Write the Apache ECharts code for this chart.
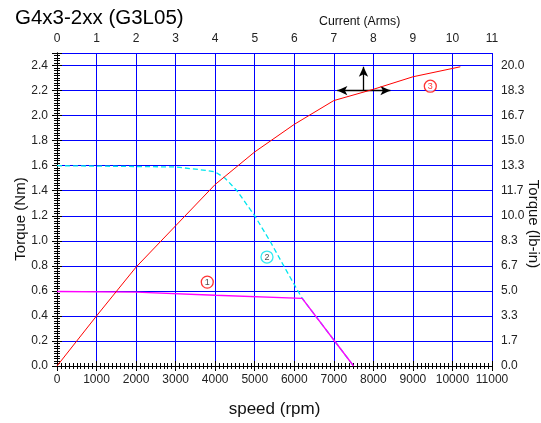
<!DOCTYPE html>
<html><head><meta charset="utf-8">
<script src="https://cdn.jsdelivr.net/npm/echarts@6/dist/echarts.min.js"></script>
<style>html,body{margin:0;padding:0;background:#fff}#c{width:541px;height:423px}</style>
</head><body><div id="c"></div>
<script>
// ---- data ----
const titleText = 'G4x3-2xx (G3L05)';
// curve 3 : torque vs current (top axis)
const curve3Current = [0, 1, 2, 3, 4, 5, 6, 7, 8, 9, 10.2];
const curve3Torque  = [0, 0.40, 0.79, 1.12, 1.45, 1.71, 1.93, 2.12, 2.21, 2.31, 2.39];
// curve 2 : peak torque vs speed (dashed cyan)
const curve2Speed  = [0, 3000, 3700, 4000, 4250, 4550, 5000, 5400, 5750, 6190, 7500];
const curve2Torque = [1.60, 1.59, 1.565, 1.55, 1.50, 1.40, 1.20, 0.99, 0.79, 0.545, 0];
// curve 1 : continuous torque vs speed (magenta)
const curve1Speed  = [0, 2000, 4000, 6200, 7500];
const curve1Torque = [0.595, 0.59, 0.565, 0.54, 0];
// circled labels
const markNames  = ['1', '2', '3'];
const markSpeed  = [3800, 5310, 9440];
const markTorque = [0.67, 0.87, 2.235];
const markColors = ['#ff0000', '#00e5ee', '#ff0000'];
const markTextColors = ['#222', '#222', '#ff0000'];
// arrow cross
const arrowHoriz = [[7090, 2.2], [8430, 2.2]];
const arrowVert  = [[7750, 2.2], [7750, 2.39]];
// axes
const speedMax = 11000, speedStep = 1000;
const currentMax = 11, currentStep = 1;
const torqueMax = 2.5, torqueStep = 0.2;
const lbinMax = 2.5 / 2.4 * 20, lbinStep = 20 / 12;

const zip = (a, b) => a.map((v, i) => [v, b[i]]);
const font = "'Liberation Sans', Arial, sans-serif";
const blue = '#0000ff';

const axisCommon = {
  nameMoveOverlap: false,
  axisLine: { show: true, lineStyle: { color: '#000', width: 1 } },
  axisTick: { show: true, inside: false, length: 5, lineStyle: { color: '#000' } },
  minorTick: { show: true, splitNumber: 10, length: 3, lineStyle: { color: '#000' } },
  axisLabel: { color: '#222', fontSize: 12, fontFamily: font, showMaxLabel: false },
  nameTextStyle: { color: '#111', fontFamily: font }
};

const chart = echarts.init(document.getElementById('c'));
chart.setOption({
  animation: false,
  backgroundColor: '#fff',
  title: [
    { text: titleText, left: 10, top: 3, textStyle: { fontSize: 20.5, fontWeight: 'normal', color: '#000', fontFamily: font } },
    { text: 'Current (Arms)', left: 314, top: 11, textStyle: { fontSize: 12.3, fontWeight: 'normal', color: '#111', fontFamily: font } }
  ],
  grid: { left: 57, right: 49, top: 53, bottom: 57, containLabel: false, outerBoundsMode: 'none' },
  xAxis: [
    Object.assign({}, axisCommon, {
      type: 'value', position: 'bottom', min: 0, max: speedMax, interval: speedStep,
      name: 'speed (rpm)', nameLocation: 'middle', nameGap: 35,
      nameTextStyle: { fontSize: 17, color: '#111', fontFamily: font },
      axisLabel: Object.assign({}, axisCommon.axisLabel, { margin: 8, showMaxLabel: true, formatter: v => String(v) }),
      splitLine: { show: true, lineStyle: { color: blue, width: 1 } }
    }),
    Object.assign({}, axisCommon, {
      type: 'value', position: 'top', min: 0, max: currentMax, interval: currentStep,
      axisLabel: Object.assign({}, axisCommon.axisLabel, { margin: 8, showMaxLabel: true, formatter: v => String(v) }),
      splitLine: { show: false }
    })
  ],
  yAxis: [
    Object.assign({}, axisCommon, {
      type: 'value', position: 'left', min: 0, max: torqueMax, interval: torqueStep,
      name: 'Torque (Nm)', nameLocation: 'middle', nameGap: 29, nameRotate: 90,
      nameTextStyle: { fontSize: 15, color: '#111', fontFamily: font, padding: [0, 19, 0, 0] },
      axisLabel: Object.assign({}, axisCommon.axisLabel, { margin: 9, formatter: v => v.toFixed(1) }),
      splitLine: { show: true, lineStyle: { color: blue, width: 1 } }
    }),
    Object.assign({}, axisCommon, {
      type: 'value', position: 'right', min: 0, max: lbinMax, interval: lbinStep,
      name: 'Torque (lb-in)', nameLocation: 'middle', nameGap: 34, nameRotate: -90,
      nameTextStyle: { fontSize: 15, color: '#111', fontFamily: font, padding: [0, 0, 0, 29] },
      axisLabel: Object.assign({}, axisCommon.axisLabel, { margin: 9, formatter: v => v.toFixed(1) }),
      splitLine: { show: false }
    })
  ],
  series: [
    {
      type: 'line', xAxisIndex: 0, yAxisIndex: 0, data: zip(curve2Speed, curve2Torque),
      showSymbol: false, symbol: 'none',
      lineStyle: { color: '#00e5ee', width: 1.3, type: [5, 3] }, z: 3
    },
    {
      type: 'line', xAxisIndex: 0, yAxisIndex: 0, data: zip(curve1Speed, curve1Torque),
      showSymbol: false, symbol: 'none',
      lineStyle: { color: '#ff00ff', width: 1.4 }, z: 4
    },
    {
      type: 'line', xAxisIndex: 1, yAxisIndex: 0, data: zip(curve3Current, curve3Torque),
      showSymbol: false, symbol: 'none',
      lineStyle: { color: '#ff0000', width: 1 }, z: 5
    },
    {
      type: 'line', xAxisIndex: 0, yAxisIndex: 0, data: [],
      showSymbol: false, symbol: 'none', z: 6,
      markLine: {
        silent: true, symbol: ['arrow', 'arrow'], symbolSize: [7, 10], label: { show: false },
        emphasis: { disabled: true },
        lineStyle: { color: '#000', width: 1.3, type: 'solid' },
        data: [
          [{ coord: arrowHoriz[0] }, { coord: arrowHoriz[1] }],
          [{ coord: arrowVert[0], symbol: 'none' }, { coord: arrowVert[1], symbol: 'arrow' }]
        ]
      }
    },
    {
      type: 'scatter', xAxisIndex: 0, yAxisIndex: 0, z: 7,
      data: markNames.map((n, i) => ({
        value: [markSpeed[i], markTorque[i]], name: n,
        itemStyle: { color: '#fff', borderColor: markColors[i], borderWidth: 1.3 },
        label: { color: markTextColors[i] }
      })),
      symbol: 'circle', symbolSize: 12,
      label: { show: true, position: 'inside', formatter: p => p.name, fontSize: 9, fontFamily: font }
    }
  ]
});
</script></body></html>
